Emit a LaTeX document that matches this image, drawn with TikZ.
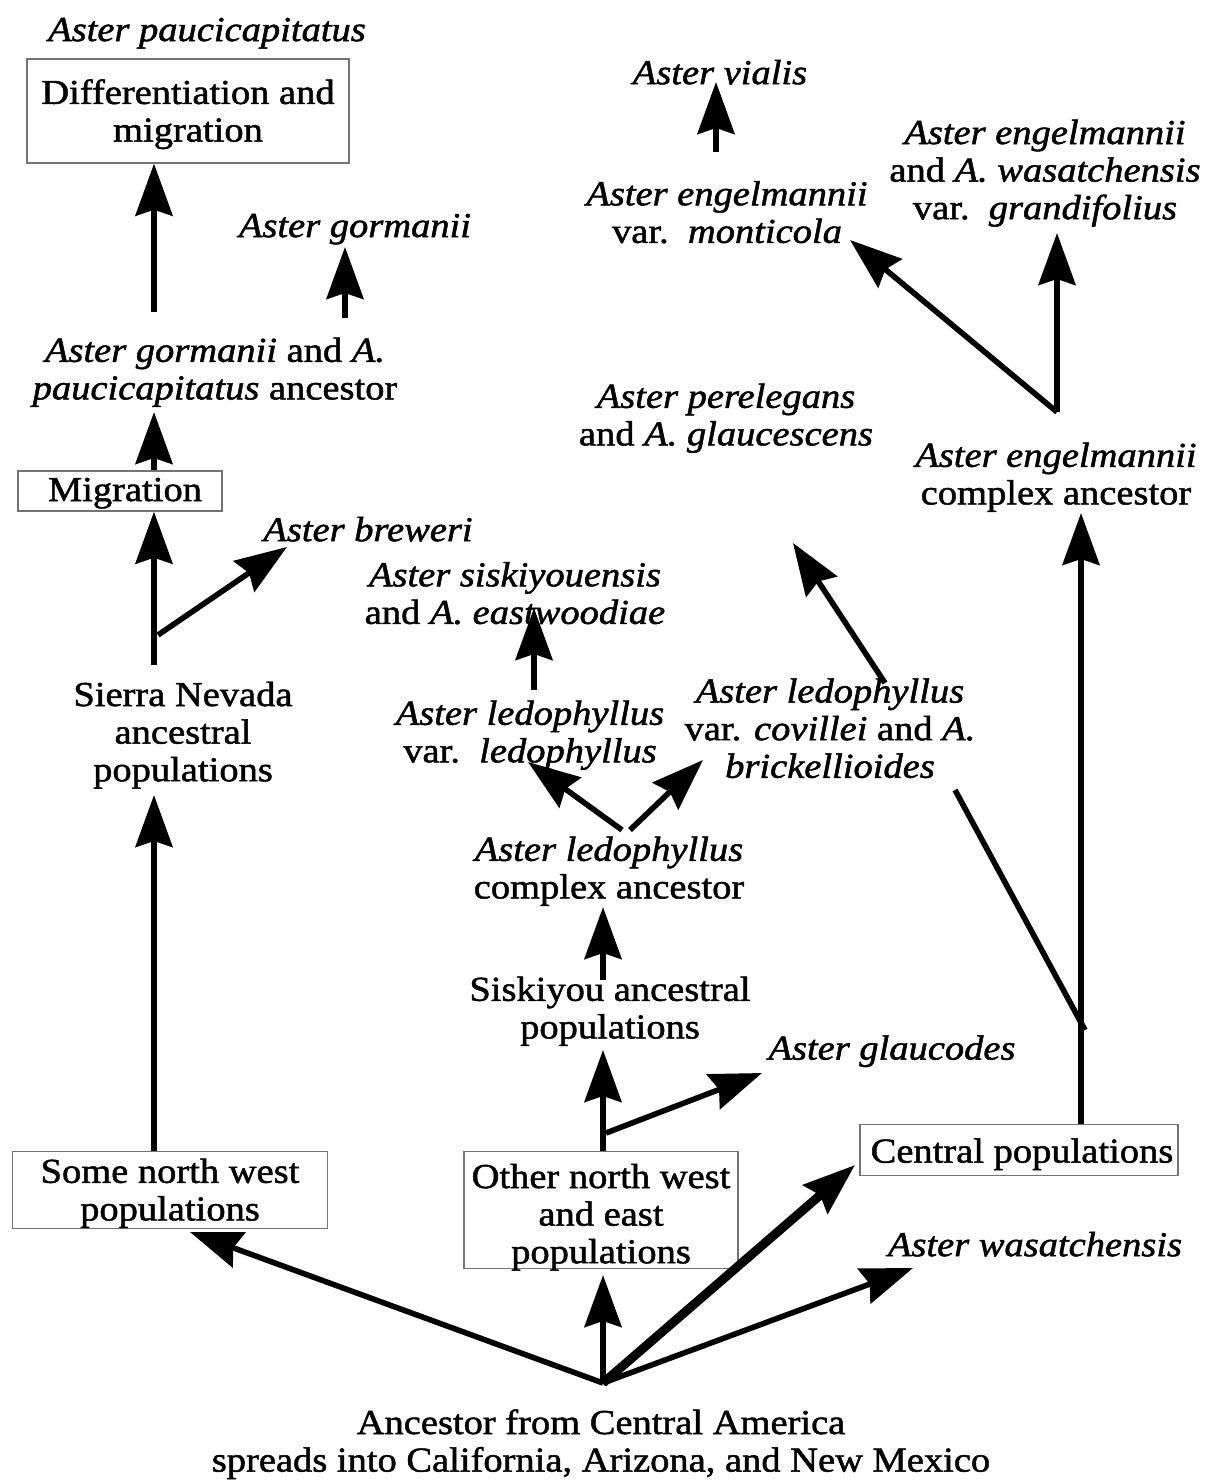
\documentclass[tikz,border=0pt]{standalone}
\usepackage{fontspec}
\setmainfont{Liberation Serif}[FakeStretch=1.1,FakeBold=1.4]
\usetikzlibrary{arrows.meta}
\begin{document}
\begin{tikzpicture}[x=0.5pt,y=-0.5pt,
  lbl/.style={align=center,inner sep=0pt,yshift=-1.6pt,font=\fontsize{17.5}{18.8}\selectfont},
  sp/.style={lbl,font=\fontsize{17.5}{18.8}\selectfont\itshape},
  frame/.style={draw=black!55,line width=0.7pt,inner sep=0pt},
  arr/.style={line width=2.8pt,-{Stealth[length=26pt,width=18.5pt,inset=3pt]}},
  thickarr/.style={arr,line width=4.5pt}]
\useasboundingbox (0,0) rectangle (1207,1484);

% frames of the boxed stages
\node[frame,minimum width=161pt,minimum height=52pt] (diffbox) at (188,111) {};
\node[frame,minimum width=102pt,minimum height=20pt] (migrbox) at (120,491) {};
\node[frame,minimum width=157.5pt,minimum height=38.5pt] (somenwbox) at (170,1190) {};
\node[frame,minimum width=137pt,minimum height=58.5pt] (othernwbox) at (601,1210) {};
\node[frame,minimum width=159pt,minimum height=25.5pt] (centralbox) at (1019,1150) {};

% labels
\node[sp] (paucic) at (207,30) {Aster paucicapitatus};
\node[lbl] (diff) at (188,111) {Differentiation and\\migration};
\node[sp] (gorm) at (355,226) {Aster gormanii};
\node[lbl] (gpanc) at (215,369) {\textit{Aster gormanii} and \textit{A.}\\\textit{paucicapitatus} ancestor};
\node[lbl] (migr) at (125,490) {Migration};
\node[sp] (brew) at (368,526) {Aster breweri};
\node[lbl] (sierra) at (183,732) {Sierra Nevada\\ancestral\\populations};
\node[lbl] (somenw) at (170,1190) {Some north west\\populations};
\node[lbl] (othernw) at (601,1214) {Other north west\\and east\\populations};
\node[lbl] (central) at (1022,1151) {Central populations};
\node[sp] (wasat) at (1035,1241) {Aster wasatchensis};
\node[lbl] (ancestor) at (601,1441) {Ancestor from Central America\\spreads into California, Arizona, and New Mexico};
\node[sp] (glaucodes) at (892,1048) {Aster glaucodes};
\node[lbl] (siskanc) at (610,1008) {Siskiyou ancestral\\populations};
\node[lbl] (ledcx) at (609,868) {\textit{Aster ledophyllus}\\complex ancestor};
\node[lbl] (ledled) at (530,732) {\textit{Aster ledophyllus}\\var.~~\textit{ledophyllus}};
\node[lbl] (ledcov) at (830,725) {\textit{Aster ledophyllus}\\var. \textit{covillei} and \textit{A.}\\\textit{brickellioides}};
\node[lbl] (sisk) at (515,590) {\textit{Aster siskiyouensis}\\and \textit{A. eastwoodiae}};
\node[lbl] (pereleg) at (726,415) {\textit{Aster perelegans}\\and \textit{A. glaucescens}};
\node[lbl] (engcx) at (1056,474) {\textit{Aster engelmannii}\\complex ancestor};
\node[sp] (vialis) at (720,69) {Aster vialis};
\node[lbl] (monti) at (727,209) {\textit{Aster engelmannii}\\var.~~\textit{monticola}};
\node[lbl] (grandi) at (1045,170) {\textit{Aster engelmannii}\\and \textit{A. wasatchensis}\\var.~~\textit{grandifolius}};

% connector ends
\coordinate (root) at (603,1383);
\coordinate (gpL) at (154,312);
\coordinate (gpR) at (345,318);
\coordinate (gormTip) at (345,247);
\coordinate (gpTip) at (154,412);
\coordinate (snTop) at (154,665);
\coordinate (brewFork) at (158,635);
\coordinate (brewTip) at (287,547);
\coordinate (snTip) at (154,795);
\coordinate (nwTip) at (190,1232);
\coordinate (otherTip) at (603,1275);
\coordinate (centralTip) at (855,1165);
\coordinate (wasTip) at (913,1268);
\coordinate (siskTip) at (603,1050);
\coordinate (glFork) at (606,1133);
\coordinate (glTip) at (762,1073);
\coordinate (siskTop) at (603,980);
\coordinate (ledcxTip) at (603,907);
\coordinate (ledForkL) at (622,830);
\coordinate (ledLTip) at (528,762);
\coordinate (ledForkR) at (630,830);
\coordinate (ledRTip) at (703,760);
\coordinate (ledTop) at (534,690);
\coordinate (siskiTip) at (534,608);
\coordinate (covTop) at (885,683);
\coordinate (perTip) at (793,543);
\coordinate (covFoot) at (955,790);
\coordinate (covJoin) at (1085,1030);
\coordinate (cenLine) at (1081,0);
\coordinate (engTip) at (1081,513);
\coordinate (engFork) at (1057,412);
\coordinate (montiTip) at (850,240);
\coordinate (grandTip) at (1057,233);
\coordinate (vialFoot) at (716,152);
\coordinate (vialTip) at (716,82);

% west branch
\draw[arr] (gpL) -- (diffbox.south -| gpL);
\draw[arr] (gpR) -- (gormTip);
\draw[arr] (migrbox.north -| gpL) -- (gpTip);
\draw[arr] (snTop) -- (migrbox.south -| gpL);
\draw[arr] (brewFork) -- (brewTip);
\draw[arr] (somenwbox.north -| gpL) -- (snTip);

% from the common ancestor
\draw[arr] (root) -- (nwTip);
\draw[arr] (root) -- (otherTip);
\draw[thickarr] (root) -- (centralTip);
\draw[arr] (root) -- (wasTip);

% middle branch
\draw[arr] (othernwbox.north -| root) -- (siskTip);
\draw[arr] (glFork) -- (glTip);
\draw[arr] (siskTop) -- (ledcxTip);
\draw[arr] (ledForkL) -- (ledLTip);
\draw[arr] (ledForkR) -- (ledRTip);
\draw[arr] (ledTop) -- (siskiTip);
\draw[arr] (covTop) -- (perTip);
\draw[line width=2.8pt] (covFoot) -- (covJoin);

% east branch
\draw[arr] (centralbox.north -| cenLine) -- (engTip);
\draw[arr] (engFork) -- (montiTip);
\draw[arr] (engFork) -- (grandTip);
\draw[arr] (vialFoot) -- (vialTip);
\end{tikzpicture}
\end{document}
